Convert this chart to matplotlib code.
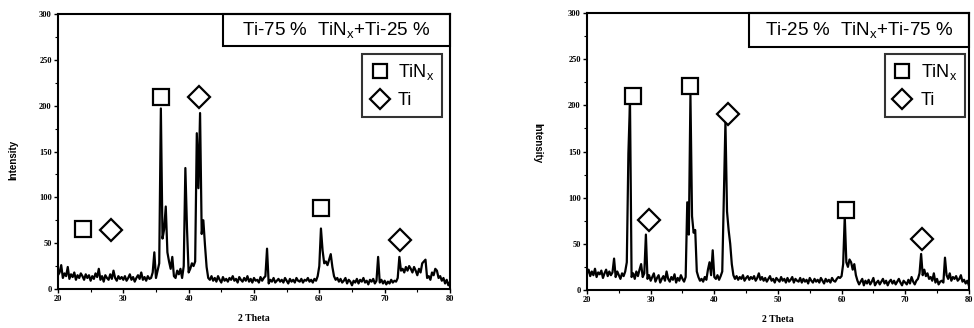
import numpy as np
import matplotlib
matplotlib.use("Agg")
import matplotlib.pyplot as plt
from matplotlib.patches import Rectangle
from matplotlib.lines import Line2D

plt.rcParams['mathtext.fontset'] = 'custom'
plt.rcParams['mathtext.rm'] = 'Liberation Sans'
plt.rcParams['mathtext.it'] = 'Liberation Sans'

# 2-theta sampling (20..80 deg, 0.25 deg step)
two_theta = np.linspace(20, 80, 241)

# Left pattern: Ti-75% TiNx + Ti-25%
intensity_a = [
    15, 18, 26, 12, 17, 14, 24, 11,
    16, 13, 18, 10, 15, 12, 17, 14,
    10, 16, 12, 15, 9, 14, 11, 17,
    13, 22, 10, 14, 8, 15, 12, 10,
    16, 11, 20, 12, 9, 14, 11, 13,
    10, 14, 9, 12, 16, 10, 13, 8,
    12, 15, 11, 18, 10, 13, 9, 14,
    11, 12, 18, 40, 12, 20, 28, 197,
    55, 65, 90, 40, 30, 22, 35, 14,
    12, 20, 16, 22, 12, 25, 132, 66,
    18, 22, 28, 25, 30, 170, 110, 192,
    60, 75, 48, 24, 12, 10, 14, 9,
    12, 8, 14, 10, 7, 13, 9, 11,
    8, 12, 10, 14, 9, 11, 7, 13,
    10, 8, 12, 9, 14, 8, 11, 7,
    12, 9, 10, 7, 13, 9, 12, 14,
    44, 6, 10, 8, 12, 7, 9, 11,
    8, 10, 7, 12, 9, 6, 11, 8,
    10, 7, 12, 9, 8, 11, 7, 10,
    9, 12, 8, 10, 7, 11, 9, 14,
    25, 66, 42, 28, 30, 26, 32, 38,
    24, 14, 10, 12, 8, 11, 7, 9,
    12, 6, 10, 8, 4, 9, 7, 11,
    6, 10, 8, 12, 7, 9, 5, 10,
    8, 11, 6, 9, 35, 7, 10, 6,
    9, 5, 8, 6, 10, 7, 9, 8,
    12, 35, 20, 22, 18, 24, 20, 25,
    22, 18, 24, 20, 15, 22, 18, 28,
    30, 32, 12, 14, 10, 18, 15, 22,
    20, 12, 14, 9, 12, 6, 10, 4,
    8,
]

# Right pattern: Ti-25% TiNx + Ti-75%
intensity_b = [
    18, 22, 15, 20, 16, 23, 14, 19,
    17, 21, 13, 18, 22, 15, 20, 16,
    19, 34, 14, 20, 16, 12, 18, 15,
    20, 30, 148, 205, 14, 18, 12, 20,
    15, 22, 28, 14, 18, 60, 12, 16,
    10, 14, 18, 9, 13, 16, 8, 12,
    15, 10, 20, 12, 9, 14, 11, 17,
    8, 13, 10, 16, 12, 9, 14, 95,
    60, 211, 80, 62, 65, 20, 14, 10,
    12, 9, 14, 11, 22, 30, 16, 43,
    14, 12, 16, 11, 15, 20, 100, 182,
    85, 65, 50, 28, 16, 12, 15, 11,
    14, 12, 16, 10, 13, 15, 11, 14,
    12, 15, 10, 13, 18, 11, 14, 10,
    13, 9, 12, 15, 10, 12, 8, 13,
    11, 9, 14, 10, 12, 8, 13, 9,
    11, 14, 8, 12, 10, 9, 13, 8,
    12, 9, 11, 7, 13, 10, 8, 12,
    9, 11, 8, 13, 10, 7, 12, 9,
    11, 8, 13, 10, 9, 12, 14, 13,
    15, 28, 80, 30, 25, 33, 30, 22,
    28, 16, 10, 6, 9, 12, 5, 10,
    7, 11, 6, 9, 13, 5, 8, 10,
    6, 9, 12, 7, 10, 5, 9, 11,
    7, 10, 6, 9, 12, 8, 5, 10,
    8, 6, 11, 7, 14, 9, 6, 10,
    12, 18, 39, 16, 22, 15, 18, 12,
    14, 10, 18, 8, 12, 6, 9, 10,
    8, 35, 16, 12, 18, 10, 14, 12,
    15, 10, 12, 16, 9, 11, 7, 10,
    5,
]

# Phase markers (2theta, intensity)
tin_a_x = [35.7, 23.9, 60.2]
tin_a_y = [210, 65, 88]
ti_a_x = [41.6, 28.1, 72.3]
ti_a_y = [209, 64, 53]

tin_b_x = [27.2, 36.2, 60.7]
tin_b_y = [210, 221, 87]
ti_b_x = [29.8, 42.1, 72.7]
ti_b_y = [76, 191, 55]

titles = [r"Ti-75 %  TiN$_{\rm x}$+Ti-25 %", r"Ti-25 %  TiN$_{\rm x}$+Ti-75 %"]
legend_labels = [r"TiN$_{\rm x}$", "Ti"]
x_ticks = [20, 30, 40, 50, 60, 70, 80]
y_ticks = [0, 50, 100, 150, 200, 250, 300]

fig = plt.figure(figsize=(9.74, 3.28), dpi=100)
ax1 = fig.add_axes([0.0595, 0.119, 0.4025, 0.838])
ax2 = fig.add_axes([0.6027, 0.116, 0.392, 0.844])

configs = [
    (ax1, intensity_a, tin_a_x, tin_a_y, ti_a_x, ti_a_y, titles[0], 0.421, 0.884, (0.98, 0.855)),
    (ax2, intensity_b, tin_b_x, tin_b_y, ti_b_x, ti_b_y, titles[1], 0.424, 0.877, (0.99, 0.852)),
]

sq_ms = 12
dm_ms = 11.5

for ax, ys, tx, ty, dx, dy, title, tl, tb, lanchor in configs:
    ax.plot(two_theta, ys, color='black', lw=1.6)
    ax.plot(tx, ty, ls='none', marker='s', ms=sq_ms, mfc='white', mec='black', mew=1.6)
    ax.plot(dx, dy, ls='none', marker='D', ms=dm_ms, mfc='white', mec='black', mew=1.6)
    ax.set_xlim(20, 80)
    ax.set_ylim(0, 300)
    ax.set_xticks(x_ticks)
    ax.set_yticks(y_ticks)
    ax.set_xticks(np.array(x_ticks[:-1]) + 5, minor=True)
    ax.set_yticks(np.array(y_ticks[:-1]) + 25, minor=True)
    ax.tick_params(which='major', direction='out', length=3, width=1, labelsize=6, pad=1.5)
    ax.tick_params(which='minor', direction='out', length=2, width=0.8)
    for lab in ax.get_xticklabels() + ax.get_yticklabels():
        lab.set_family('Liberation Serif')
        lab.set_fontweight('bold')
    for sp in ax.spines.values():
        sp.set_linewidth(1.5)
    # title box
    ax.add_patch(Rectangle((tl, tb), 1 - tl, 1 - tb, transform=ax.transAxes,
                           fill=False, ec='black', lw=1.5, clip_on=False, zorder=5))
    ax.text((tl + 1) / 2, (tb + 1) / 2, title, transform=ax.transAxes,
            ha='center', va='center', fontsize=13.5, family='Liberation Sans')
    handles = [
        Line2D([], [], ls='none', marker='s', ms=10, mfc='white', mec='black', mew=1.6),
        Line2D([], [], ls='none', marker='D', ms=10, mfc='white', mec='black', mew=1.6),
    ]
    leg = ax.legend(handles, legend_labels, loc='upper right', bbox_to_anchor=lanchor,
                    bbox_transform=ax.transAxes, frameon=True, fancybox=False,
                    edgecolor='black', prop={'family': 'Liberation Sans', 'size': 13},
                    handlelength=1.0, handletextpad=0.5, borderpad=0.45, labelspacing=0.55,
                    borderaxespad=0)
    leg.get_frame().set_linewidth(1.5)
    ax.set_xlabel("2 Theta", fontsize=7, fontweight='bold', family='Liberation Serif', labelpad=8)

fig.text(13 / 974, 1 - 160 / 328, "Intensity", rotation=90, ha='center', va='center',
         fontsize=7, fontweight='bold', family='Liberation Sans')
fig.text(537 / 974, 1 - 143 / 328, "Intensity", rotation=270, ha='center', va='center',
         fontsize=7, fontweight='bold', family='Liberation Sans')

fig.savefig("out.png", dpi=100)
